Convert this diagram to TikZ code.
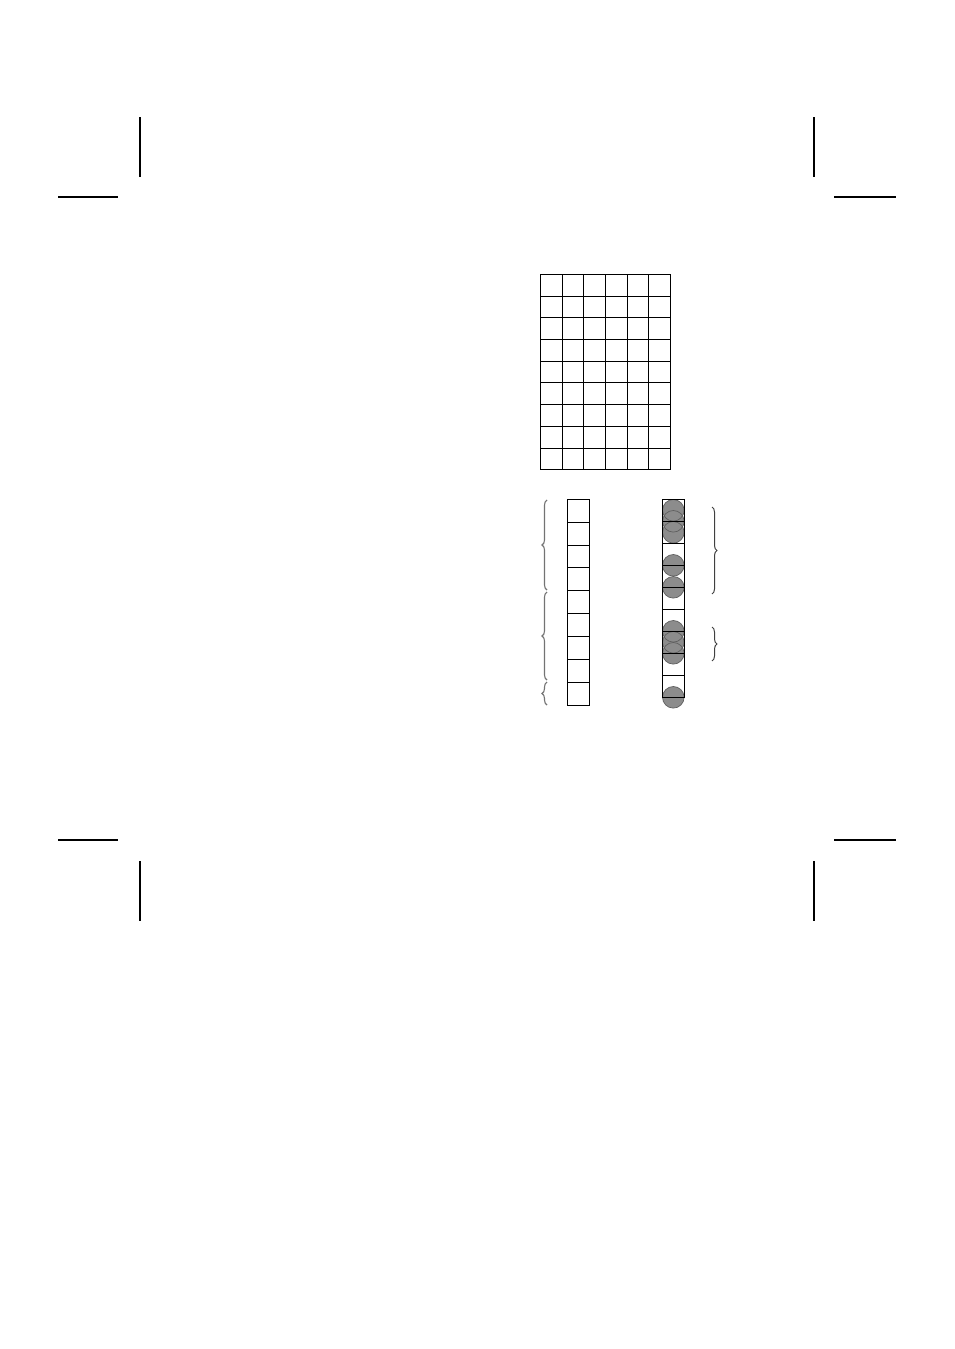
\documentclass[tikz,border=0pt]{standalone}
\usepackage{tikz}
\usetikzlibrary{decorations.pathreplacing}
\definecolor{discfill}{RGB}{140,140,140}
\definecolor{discedge}{RGB}{95,95,95}

\begin{document}
\begin{tikzpicture}[x=1pt, y=-1pt, line width=0.9pt,
    cropmark/.style={line width=1.1pt},
    cell/.style={draw, line width=0.8pt},
    disc/.style={fill=discfill},
    discrim/.style={draw=discedge, line width=0.7pt},
    leftbrace/.style={draw=black!55, line width=1.1pt, decorate, decoration={brace, amplitude=5pt}},
    rightbrace/.style={draw=black!75, line width=1pt, decorate, decoration={brace, amplitude=5pt}}]
    \useasboundingbox (0,0) rectangle (954,1349);

    % crop marks
    \draw[cropmark] (140,117) -- (140,177);
    \draw[cropmark] (58,197) -- (118,197);
    \draw[cropmark] (814,117) -- (814,177);
    \draw[cropmark] (834,197) -- (896,197);
    \draw[cropmark] (58,840) -- (118,840);
    \draw[cropmark] (140,861) -- (140,921);
    \draw[cropmark] (834,840) -- (896,840);
    \draw[cropmark] (814,861) -- (814,921);

    % block of cells
    \foreach \i in {0,...,6}
        \draw[cell] (540.3+\i*21.7,274.3) -- ++(0,195.3);
    \foreach \j in {0,...,9}
        \draw[cell] (540.3,274.3+\j*21.7) -- ++(130.2,0);

    % left column
    \foreach \j in {0,...,8}
        \draw[cell] (567,499.3+\j*22.85) rectangle ++(22.3,22.85);

    \draw[leftbrace] (547,590) -- (547,500);
    \draw[leftbrace] (547,680) -- (547,592);
    \draw[leftbrace] (547,705) -- (547,682);

    % right column with discs
    \foreach \y in {510.3,521.3,532.3,565.3,587.3,631.3,642.3,653.3,697.3}
        \fill[disc] (673.3,\y) circle (10.8);
    \foreach \y in {510.3,521.3,532.3,565.3,587.3,631.3,642.3,653.3,697.3}
        \draw[discrim] (673.3,\y) circle (10.8);
    \foreach \j in {0,...,8}
        \draw[cell] (662.3,499.3+\j*22) rectangle ++(22,22);

    \draw[rightbrace] (712,507) -- (712,594);
    \draw[rightbrace] (712,627) -- (712,661);
\end{tikzpicture}
\end{document}
